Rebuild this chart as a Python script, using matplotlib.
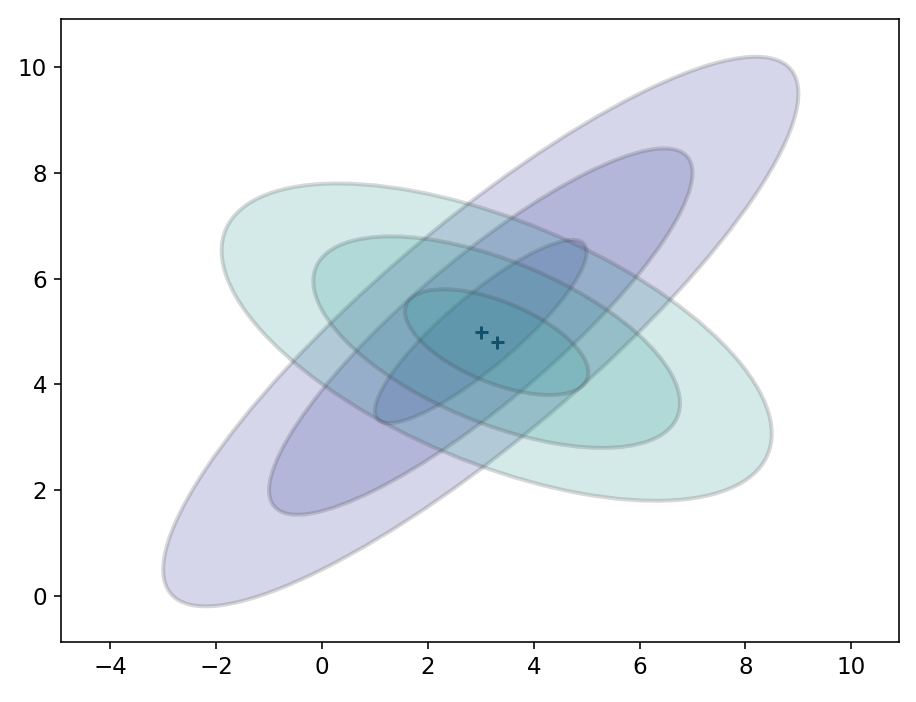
import numpy as np
import matplotlib
matplotlib.use("Agg")
import matplotlib.pyplot as plt
from matplotlib.patches import Ellipse
import matplotlib.transforms as transforms

# two gaussian groups: mean and covariance
means = [(3.0, 5.0), (3.3, 4.8)]
covs = [[[4.0, 3.0], [3.0, 3.0]],
        [[3.0, -1.0], [-1.0, 1.0]]]
n_stds = [3, 2, 1]
face_colors = [(45/255, 50/255, 150/255, 0.2), (40/255, 150/255, 145/255, 0.2)]
edge_color = (0.25, 0.25, 0.25, 0.2)
marker_color = "#12506c"

xlim = (-4.93, 10.9)
ylim = (-0.87, 10.91)


def confidence_ellipse(ax, mean, cov, n_std, fc):
	cov = np.array(cov)
	pearson = cov[0, 1] / np.sqrt(cov[0, 0] * cov[1, 1])
	rx = np.sqrt(1 + pearson)
	ry = np.sqrt(1 - pearson)
	ell = Ellipse((0, 0), width=rx * 2, height=ry * 2,
		facecolor=fc, edgecolor=edge_color, linewidth=2)
	sx = np.sqrt(cov[0, 0]) * n_std
	sy = np.sqrt(cov[1, 1]) * n_std
	tr = transforms.Affine2D().rotate_deg(45).scale(sx, sy).translate(mean[0], mean[1])
	ell.set_transform(tr + ax.transData)
	ax.add_patch(ell)


fig = plt.figure(figsize=(916/144.0, 702/144.0), dpi=144)
ax = fig.add_axes([61/916.0, 60/702.0, 838/916.0, 623/702.0])

for m, c, fc in zip(means, covs, face_colors):
	for n in n_stds:
		confidence_ellipse(ax, m, c, n, fc)

for m in means:
	ax.plot(m[0], m[1], '+', color=marker_color, markersize=6.5, mew=1.5)

ax.set_xlim(*xlim)
ax.set_ylim(*ylim)
ax.set_xticks([-4, -2, 0, 2, 4, 6, 8, 10])
ax.set_yticks([0, 2, 4, 6, 8, 10])
ax.tick_params(labelsize=11.5)

fig.savefig("out.png", dpi=144)
